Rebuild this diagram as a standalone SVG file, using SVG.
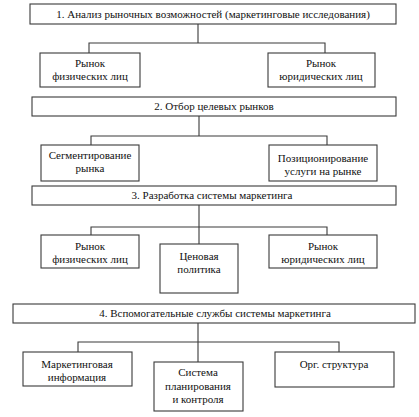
<svg xmlns="http://www.w3.org/2000/svg" width="419" height="417" viewBox="0 0 419 417">
<style>
.b{fill:#fff;stroke:#3a3a3a;stroke-width:1.1}
.c{fill:none;stroke:#3a3a3a;stroke-width:1.1}
text{font-family:"Liberation Serif","Times New Roman",serif;font-size:11px;fill:#111;text-anchor:middle}
</style>
<rect width="419" height="417" fill="#fff"/>
<g id="connectors">
<path class="c" d="M198,24V43M89,53V43H325V53"/>
<path class="c" d="M199,116V136M91,145V136H327V145"/>
<path class="c" d="M199,205V244M91,235V227H327V235"/>
<path class="c" d="M198,323V362M78,352V342H339V352"/>
</g>
<g id="n1"><rect class="b" x="30" y="4" width="366" height="20"/><text x="213" y="18">1. Анализ рыночных возможностей (маркетинговые исследования)</text></g>
<g id="n1a"><rect class="b" x="40" y="53" width="100" height="34"/><text x="90" y="67">Рынок</text><text x="90" y="80">физических лиц</text></g>
<g id="n1b"><rect class="b" x="268" y="53" width="107" height="34"/><text x="321" y="67">Рынок</text><text x="321" y="80">юридических лиц</text></g>
<g id="n2"><rect class="b" x="32" y="97" width="364" height="19"/><text x="214" y="110">2. Отбор целевых рынков</text></g>
<g id="n2a"><rect class="b" x="41" y="145" width="98" height="36"/><text x="90" y="159">Сегментирование</text><text x="90" y="172">рынка</text></g>
<g id="n2b"><rect class="b" x="269" y="145" width="108" height="36"/><text x="323" y="162">Позиционирование</text><text x="323" y="175">услуги на рынке</text></g>
<g id="n3"><rect class="b" x="32" y="186" width="364" height="19"/><text x="212" y="199">3. Разработка системы маркетинга</text></g>
<g id="n3a"><rect class="b" x="41" y="235" width="98" height="33"/><text x="90" y="250">Рынок</text><text x="90" y="263">физических лиц</text></g>
<g id="n3b"><rect class="b" x="160" y="244" width="78" height="49"/><text x="199" y="260">Ценовая</text><text x="199" y="273">политика</text></g>
<g id="n3c"><rect class="b" x="269" y="235" width="108" height="33"/><text x="323" y="250">Рынок</text><text x="323" y="263">юридических лиц</text></g>
<g id="n4"><rect class="b" x="13" y="304" width="402" height="19"/><text x="215" y="317">4. Вспомогательные службы системы маркетинга</text></g>
<g id="n4a"><rect class="b" x="23" y="352" width="109" height="34"/><text x="77" y="368">Маркетинговая</text><text x="77" y="381">информация</text></g>
<g id="n4b"><rect class="b" x="154" y="362" width="89" height="49"/><text x="198" y="376">Система</text><text x="198" y="390">планирования</text><text x="198" y="403">и контроля</text></g>
<g id="n4c"><rect class="b" x="275" y="352" width="119" height="35"/><text x="334" y="368">Орг. структура</text></g>
</svg>
